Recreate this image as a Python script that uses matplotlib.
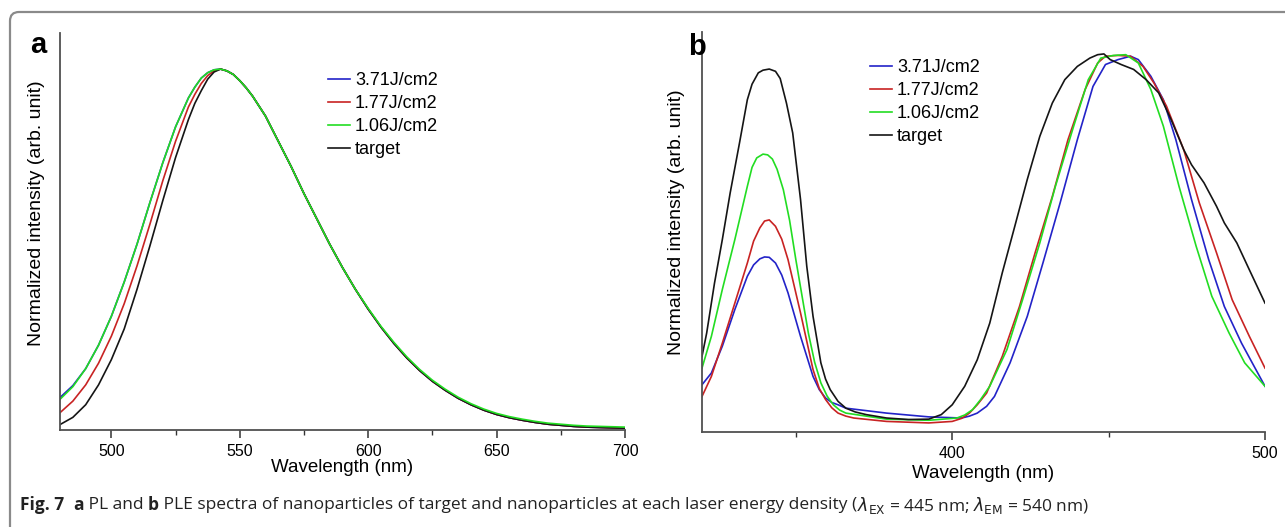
import matplotlib
matplotlib.use("Agg")
import matplotlib.pyplot as plt
import matplotlib.ticker as ticker
from matplotlib.patches import FancyBboxPatch
from matplotlib import font_manager

plt.rcParams.update({
    "font.family": ["Liberation Sans", "DejaVu Sans"],
    "font.size": 12,
})

# ── data: (a) PL spectra ─────────────────────────────────────────────────────
wl_pl = [480, 485, 490, 495, 500, 505, 510, 515, 520, 525, 530, 532.5, 535,
         537.5, 540, 542.5, 545, 547.5, 550, 552.5, 555, 560, 565, 570, 575,
         580, 585, 590, 595, 600, 605, 610, 615, 620, 625, 630, 635, 640,
         645, 650, 655, 660, 665, 670, 675, 680, 685, 690, 695, 700]
pl_target = [0.015, 0.035, 0.07, 0.125, 0.195, 0.28, 0.39, 0.51, 0.635, 0.755,
             0.86, 0.905, 0.94, 0.972, 0.992, 1.0, 0.995, 0.985, 0.968, 0.948,
             0.925, 0.87, 0.80, 0.73, 0.655, 0.585, 0.515, 0.45, 0.39, 0.335,
             0.285, 0.24, 0.20, 0.165, 0.135, 0.11, 0.088, 0.07, 0.055, 0.043,
             0.034, 0.027, 0.021, 0.016, 0.013, 0.010, 0.008, 0.007, 0.006, 0.005]
pl_177 = [0.048, 0.08, 0.125, 0.185, 0.26, 0.35, 0.455, 0.57, 0.69, 0.80,
          0.895, 0.93, 0.96, 0.982, 0.995, 1.0, 0.995, 0.985, 0.968, 0.948,
          0.925, 0.87, 0.80, 0.73, 0.655, 0.585, 0.515, 0.45, 0.39, 0.335,
          0.285, 0.24, 0.20, 0.165, 0.135, 0.11, 0.088, 0.07, 0.055, 0.043,
          0.034, 0.027, 0.021, 0.016, 0.013, 0.010, 0.008, 0.007, 0.006, 0.005]
pl_106 = [0.085, 0.12, 0.17, 0.235, 0.315, 0.41, 0.515, 0.63, 0.74, 0.84,
          0.92, 0.95, 0.975, 0.99, 0.998, 1.0, 0.995, 0.985, 0.968, 0.948,
          0.925, 0.87, 0.80, 0.73, 0.655, 0.585, 0.515, 0.45, 0.39, 0.337,
          0.287, 0.243, 0.203, 0.168, 0.138, 0.113, 0.091, 0.073, 0.058, 0.046,
          0.037, 0.030, 0.024, 0.019, 0.016, 0.013, 0.011, 0.010, 0.009, 0.008]
pl_371 = [0.09, 0.123, 0.17, 0.235, 0.315, 0.41, 0.515, 0.63, 0.74, 0.84,
          0.92, 0.95, 0.975, 0.99, 0.998, 1.0, 0.995, 0.985, 0.968, 0.948,
          0.925, 0.87, 0.80, 0.73, 0.655, 0.585, 0.515, 0.45, 0.39, 0.335,
          0.285, 0.24, 0.20, 0.165, 0.135, 0.11, 0.088, 0.07, 0.055, 0.043,
          0.034, 0.027, 0.021, 0.016, 0.013, 0.010, 0.008, 0.007, 0.006, 0.005]

# ── data: (b) PLE spectra ────────────────────────────────────────────────────
wl_t = [320, 321.5, 324, 326.5, 329, 332, 334.5, 336, 338, 339.5,
        341.5, 343.5, 345, 347, 349, 351.5, 353.5, 355.5, 358, 359.5,
        361, 363.5, 366, 369, 372.5, 379, 386, 392.5, 396.5, 400,
        404, 408, 412, 416, 420, 424, 428, 432, 436, 440,
        444, 446.5, 448.5, 450.5, 454, 458, 462, 466, 470, 474,
        476.5, 480.5, 484.5, 487, 491, 495, 500]
ple_target = [0.20, 0.262, 0.394, 0.509, 0.632, 0.765, 0.879, 0.92, 0.95, 0.957,
              0.96, 0.954, 0.935, 0.87, 0.791, 0.615, 0.438, 0.306, 0.183, 0.14,
              0.112, 0.081, 0.063, 0.053, 0.046, 0.037, 0.033, 0.034, 0.046, 0.072,
              0.121, 0.191, 0.288, 0.421, 0.544, 0.668, 0.782, 0.87, 0.932, 0.967,
              0.989, 0.998, 1.0, 0.985, 0.972, 0.959, 0.932, 0.897, 0.826, 0.747,
              0.707, 0.659, 0.597, 0.553, 0.50, 0.429, 0.341]

wl_b = [320, 323, 326.5, 330.5, 334.5, 336.5, 338.5, 340, 341.5, 343.5,
        345.5, 347.5, 351.5, 355.5, 357.5, 359.5, 361.5, 363.5, 366, 379,
        392.5, 403, 405.5, 408, 411, 413.5, 418.5, 424, 429, 434.5,
        440, 445, 449, 453, 457, 459.5, 463.5, 467.5, 471.5, 476.5,
        482, 487, 492.5, 496.5, 500]
ple_371 = [0.125, 0.156, 0.227, 0.324, 0.412, 0.442, 0.458, 0.463, 0.462, 0.447,
           0.415, 0.368, 0.253, 0.147, 0.112, 0.09, 0.078, 0.072, 0.063, 0.05,
           0.04, 0.037, 0.042, 0.05, 0.068, 0.094, 0.183, 0.306, 0.447, 0.606,
           0.773, 0.914, 0.972, 0.985, 0.994, 0.985, 0.941, 0.879, 0.773, 0.615,
           0.456, 0.332, 0.235, 0.174, 0.121]

wl_r = [320, 323, 326.5, 330.5, 334.5, 336.5, 338.5, 340, 341.5, 343.5,
        345.5, 347.5, 351.5, 355.5, 357.5, 359.5, 361.5, 363.5, 366, 368.5,
        379, 392.5, 400, 403, 405.5, 408, 411, 416, 421.5, 426.5,
        432, 437, 442.5, 446.5, 449, 453, 457, 461, 464.5, 468.5,
        474, 479, 484.5, 489.5, 495, 500]
ple_177 = [0.094, 0.147, 0.235, 0.341, 0.447, 0.505, 0.54, 0.558, 0.561, 0.544,
           0.51, 0.456, 0.315, 0.165, 0.115, 0.086, 0.064, 0.05, 0.042, 0.037,
           0.028, 0.024, 0.028, 0.036, 0.05, 0.072, 0.103, 0.20, 0.332, 0.474,
           0.623, 0.773, 0.906, 0.976, 0.994, 0.996, 0.994, 0.967, 0.923, 0.862,
           0.747, 0.606, 0.474, 0.35, 0.253, 0.169]

wl_g = [320, 323, 326.5, 330.5, 334.5, 336, 337.5, 339.5, 341, 342.5,
        344, 346, 348, 350, 354, 356, 358, 360, 362, 364,
        366, 379, 392.5, 401.5, 404, 406.5, 409, 412, 417.5, 422.5,
        428, 433, 438.5, 443.5, 447.5, 451.5, 455.5, 459.5, 463.5, 467.5,
        472.5, 478, 483, 488.5, 493.5, 500]
ple_106 = [0.169, 0.253, 0.377, 0.509, 0.65, 0.70, 0.725, 0.735, 0.733, 0.722,
           0.695, 0.641, 0.56, 0.456, 0.262, 0.185, 0.13, 0.095, 0.072, 0.058,
           0.05, 0.034, 0.031, 0.037, 0.045, 0.059, 0.085, 0.121, 0.218, 0.35,
           0.50, 0.65, 0.80, 0.932, 0.989, 0.996, 0.998, 0.976, 0.906, 0.809,
           0.65, 0.491, 0.359, 0.262, 0.183, 0.121]

LABELS = ["3.71J/cm2", "1.77J/cm2", "1.06J/cm2", "target"]
COLORS = ["#2323c8", "#c82323", "#22dd22", "#151515"]
AX_COL = "#505050"

W, H = 1285, 527
fig = plt.figure(figsize=(W / 100, H / 100), dpi=100)


def px_axes(x0, y0, x1, y1):
    # pixel box (top-left origin) -> figure fraction axes
    return fig.add_axes([x0 / W, 1 - y1 / H, (x1 - x0) / W, (y1 - y0) / H])


def style(ax):
    for s in ("top", "right"):
        ax.spines[s].set_visible(False)
    for s in ("left", "bottom"):
        ax.spines[s].set_color(AX_COL)
        ax.spines[s].set_linewidth(1.3)
    ax.set_yticks([])
    ax.tick_params(axis="x", which="major", direction="out", length=6, width=1.1,
                   color="#333333", labelsize=11.5, pad=4)
    ax.tick_params(axis="x", which="minor", direction="out", length=3.5, width=1.0,
                   color="#333333")


LEG_KW = dict(bbox_transform=fig.transFigure, loc="upper left", frameon=False,
              fontsize=13, handlelength=1.2, handletextpad=0.3,
              labelspacing=0.33, borderpad=0, borderaxespad=0)

# ── panel (a) ────────────────────────────────────────────────────────────────
axa = px_axes(60, 33, 625, 430)
for y, c, lab in [(pl_371, COLORS[0], LABELS[0]),
                  (pl_177, COLORS[1], LABELS[1]),
                  (pl_target, COLORS[3], LABELS[3]),
                  (pl_106, COLORS[2], LABELS[2])]:
    axa.plot(wl_pl, y, color=c, lw=1.2, label=lab)
axa.set_xlim(480, 700)
axa.set_ylim(0, 1.10)
axa.xaxis.set_major_locator(ticker.MultipleLocator(50))
axa.xaxis.set_minor_locator(ticker.MultipleLocator(25))
style(axa)
axa.set_xlabel("Wavelength (nm)", fontsize=13.5, labelpad=0)
axa.set_ylabel("Normalized intensity (arb. unit)", fontsize=14)
axa.yaxis.set_label_coords(-0.027, 0.545)
h, l = axa.get_legend_handles_labels()
order = [l.index(x) for x in LABELS]
axa.legend([h[i] for i in order], LABELS,
           bbox_to_anchor=(328 / W, 1 - 72 / H), **LEG_KW)

# ── panel (b) ────────────────────────────────────────────────────────────────
axb = px_axes(702, 32, 1265, 432)
for wl, y, c, lab in [(wl_b, ple_371, COLORS[0], LABELS[0]),
                      (wl_r, ple_177, COLORS[1], LABELS[1]),
                      (wl_g, ple_106, COLORS[2], LABELS[2]),
                      (wl_t, ple_target, COLORS[3], LABELS[3])]:
    axb.plot(wl, y, color=c, lw=1.2, label=lab)
axb.set_xlim(320, 500)
axb.set_ylim(0, 1.058)
axb.xaxis.set_major_locator(ticker.MultipleLocator(100))
axb.xaxis.set_minor_locator(ticker.MultipleLocator(50))
style(axb)
axb.set_xlabel("Wavelength (nm)", fontsize=13.5, labelpad=3)
axb.set_ylabel("Normalized intensity (arb. unit)", fontsize=14)
axb.yaxis.set_label_coords(-0.031, 0.525)
axb.legend(bbox_to_anchor=(870 / W, 1 - 59 / H), **LEG_KW)

# panel letters
fig.text(38 / W, 1 - 45 / H, "a", fontsize=21, fontweight="bold",
         ha="center", va="center")
fig.text(697 / W, 1 - 47 / H, "b", fontsize=21, fontweight="bold",
         ha="center", va="center")

# rounded frame
frame = FancyBboxPatch((10 / 100, -0.5), 14.0, (H - 12) / 100 + 0.5,
                       boxstyle="round,pad=0,rounding_size=0.09",
                       transform=fig.dpi_scale_trans, fill=False,
                       ec="#8a8a8a", lw=1.6, clip_on=False)
fig.add_artist(frame)

# caption (mixed bold / regular pieces laid out left to right)
cap_font = ["Open Sans", "DejaVu Sans"]
try:
    font_manager.findfont(font_manager.FontProperties(family="Liberation Sans Narrow"),
                          fallback_to_default=False)
    cap_font = ["Liberation Sans Narrow", "DejaVu Sans"]
except Exception:
    pass

pieces = [("Fig. 7", "bold"), ("  ", "normal"), ("a", "bold"),
          (" PL and ", "normal"), ("b", "bold"),
          (" PLE spectra of nanoparticles of target and nanoparticles at each "
           "laser energy density (", "normal"),
          (r"$\lambda_{\mathrm{EX}}$ = 445 nm; $\lambda_{\mathrm{EM}}$ = 540 nm)",
           "normal")]
renderer = fig.canvas.get_renderer()


def draw_caption(size):
    x = 20
    arts = []
    for txt, wt in pieces:
        t = fig.text(x / W, 1 - 505 / H, txt, fontsize=size, fontweight=wt,
                     family=cap_font, ha="left", va="center", color="#222222")
        arts.append(t)
        x += t.get_window_extent(renderer=renderer).width
    return arts, x - 20


size = 12.0
arts, width = draw_caption(size)
for a in arts:
    a.remove()
size = min(13.5, size * 1065 / width)
draw_caption(size)

fig.savefig("out.png", dpi=100)
